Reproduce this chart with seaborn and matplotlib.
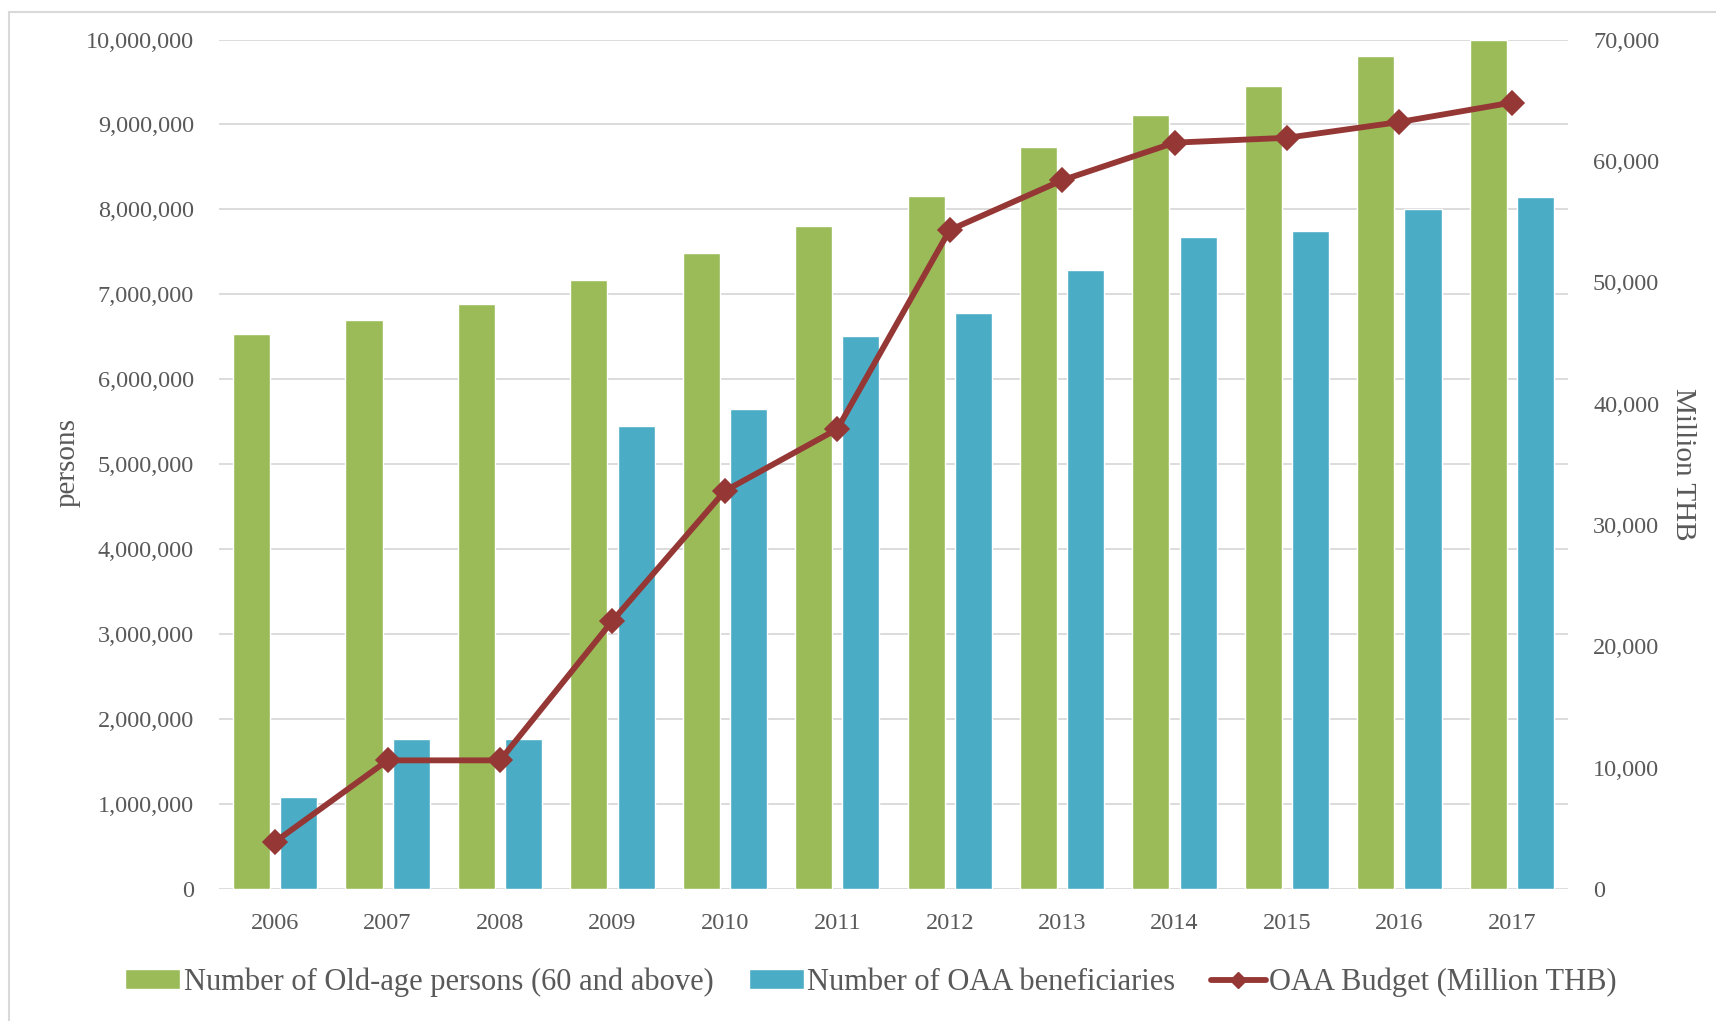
import numpy as np
import pandas as pd
import matplotlib
matplotlib.use("Agg")
import matplotlib.pyplot as plt
from matplotlib.patches import Rectangle
from matplotlib.lines import Line2D
from matplotlib.ticker import FuncFormatter, MultipleLocator
import seaborn as sns

years = ["2006", "2007", "2008", "2009", "2010", "2011",
         "2012", "2013", "2014", "2015", "2016", "2017"]
old_age_persons = [6530000, 6700000, 6890000, 7170000, 7490000, 7810000,
                   8160000, 8730000, 9110000, 9450000, 9800000, 10000000]
oaa_beneficiaries = [1080000, 1760000, 1760000, 5450000, 5650000, 6510000,
                     6780000, 7290000, 7680000, 7750000, 8010000, 8150000]
oaa_budget = [3900, 10600, 10600, 22100, 32800, 37900,
              54300, 58400, 61500, 61900, 63200, 64800]

series_names = ["Number of Old-age persons (60 and above)",
                "Number of OAA beneficiaries"]
line_name = "OAA Budget (Million THB)"

GREEN = "#9BBB59"
BLUE = "#4BACC6"
RED = "#953735"
TEXT = "#595959"
GRID = "#D9D9D9"

sns.set_theme(style="white")
plt.rcParams["font.family"] = ["Liberation Serif", "DejaVu Serif"]
plt.rcParams["text.color"] = TEXT

df = pd.DataFrame({
    "year": years * 2,
    "value": old_age_persons + oaa_beneficiaries,
    "series": [series_names[0]] * len(years) + [series_names[1]] * len(years),
})

W, H = 1716, 1021
fig = plt.figure(figsize=(W / 100, H / 100), dpi=100)
ax = fig.add_axes([219 / W, 1 - 889 / H, (1568 - 219) / W, (889 - 39.5) / H])

sns.barplot(data=df, x="year", y="value", hue="series", order=years,
            hue_order=series_names, palette=[GREEN, BLUE], saturation=1,
            width=0.84, gap=0.214, errorbar=None, ax=ax)

ax.set_ylim(0, 10000000)
ax.set_xlim(-0.5, len(years) - 0.5)
ax.yaxis.set_major_locator(MultipleLocator(1000000))
ax.yaxis.set_major_formatter(FuncFormatter(lambda v, p: f"{int(v):,}"))
ax.grid(axis="y", color=GRID, linewidth=1.3)
ax.grid(axis="x", visible=False)
ax.set_axisbelow(True)
for s in ax.spines.values():
    s.set_visible(False)
ax.tick_params(axis="y", length=0, pad=18, labelsize=17.5, labelcolor=TEXT)
ax.tick_params(axis="x", length=0, pad=17, labelsize=17.5, labelcolor=TEXT)
ax.set_xlabel("")
ax.set_ylabel("")

ax2 = ax.twinx()
sns.pointplot(x=years, y=oaa_budget, order=years, color=RED, markers="D",
              markersize=10.5, linewidth=4.2, errorbar=None,
              label=line_name, ax=ax2)
ax2.set_ylim(0, 70000)
ax2.set_xlim(-0.5, len(years) - 0.5)
ax2.yaxis.set_major_locator(MultipleLocator(10000))
ax2.yaxis.set_major_formatter(FuncFormatter(lambda v, p: f"{int(v):,}"))
ax2.grid(False)
for s in ax2.spines.values():
    s.set_visible(False)
ax2.tick_params(axis="y", length=0, pad=18, labelsize=17.5, labelcolor=TEXT)
ax2.set_ylabel("")

fig.text(68 / W, 1 - 462 / H, "persons", rotation=90, ha="center", va="center",
         fontsize=21, color=TEXT)
fig.text(1683 / W, 1 - 464 / H, "Million THB", rotation=270, ha="center",
         va="center", fontsize=21, color=TEXT)

h1, l1 = ax.get_legend_handles_labels()
if ax.get_legend() is not None:
    ax.get_legend().remove()
if ax2.get_legend() is not None:
    ax2.get_legend().remove()
line_handle = Line2D([], [], color=RED, linewidth=4.2, marker="D",
                     markersize=8)
leg = fig.legend(h1 + [line_handle], l1 + [line_name], loc="center", ncol=3,
                 bbox_to_anchor=(871 / W, 1 - 982 / H), frameon=False,
                 fontsize=22, handlelength=1.8, handleheight=0.6,
                 handletextpad=0.12, columnspacing=1.15)
for t in leg.get_texts():
    t.set_color(TEXT)

fig.patches.append(Rectangle((9 / W, -0.1), 1.2, 1 - 12 / H + 0.1,
                             transform=fig.transFigure, fill=False,
                             edgecolor=GRID, linewidth=1.5))

fig.savefig("out.png", dpi=100, facecolor="white")
